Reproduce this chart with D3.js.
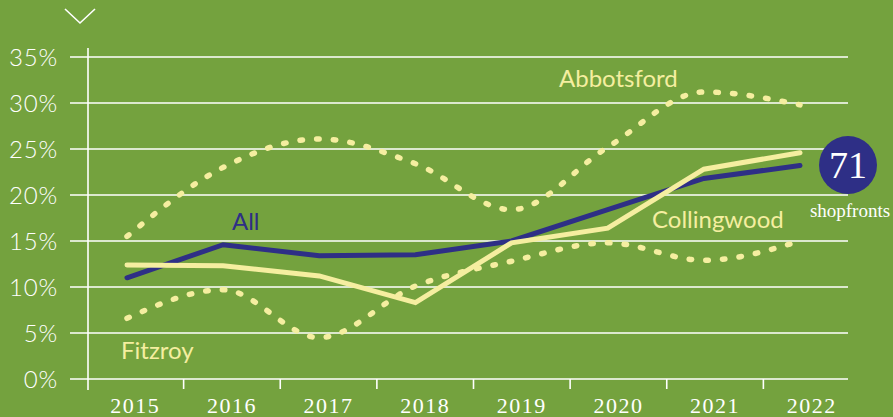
<!DOCTYPE html>
<html>
<head>
<meta charset="utf-8">
<script src="https://cdn.jsdelivr.net/npm/d3@7"></script>
<style>
  body { margin: 0; background: #74a23e; }
  svg { display: block; }
</style>
</head>
<body>
<script>
// chart data (percent of shopfronts vacant)
var years = [2015, 2016, 2017, 2018, 2019, 2020, 2021, 2022];
var allShops = [11.0, 14.6, 13.4, 13.5, 15.0, 18.4, 21.8, 23.2];
var collingwood = [12.4, 12.3, 11.2, 8.3, 14.8, 16.4, 22.8, 24.6];
var abbotsford = [15.5, 23.0, 26.1, 23.4, 18.4, 25.2, 31.2, 29.8];
var fitzroy = [6.6, 9.7, 4.5, 10.1, 12.8, 14.8, 12.9, 15.0];
var yTicks = [0, 5, 10, 15, 20, 25, 30, 35];
var shopCount = 71;

var width = 893,
    height = 417;

var green = "#74a23e",
    cream = "#f5eea0",
    navy = "#2e2f86";

var svg = d3.select("body")
  .append("svg")
  .attr("width", width)
  .attr("height", height);

svg.append("rect")
  .attr("width", width)
  .attr("height", height)
  .attr("fill", green);

//scales
var y = d3.scaleLinear().domain([0, 35]).range([379, 57]);
var x = d3.scalePoint().domain(years).range([127, 800]);
var xBand = d3.scaleBand().domain(years).range([87, 860]);

//chevron at top
svg.append("path")
  .attr("d", "M65,9L80,23L95,9")
  .attr("fill", "none")
  .attr("stroke", "#fff")
  .attr("stroke-width", 1.6);

//gridlines
svg.selectAll(".grid")
  .data(yTicks)
  .enter()
  .append("line")
  .attr("class", "grid")
  .attr("x1", 70)
  .attr("x2", 848)
  .attr("y1", function(d) { return y(d); })
  .attr("y2", function(d) { return y(d); })
  .attr("stroke", "#fff")
  .attr("stroke-width", 1.6);

//y axis labels
svg.selectAll(".ylab")
  .data(yTicks)
  .enter()
  .append("text")
  .attr("class", "ylab")
  .attr("x", 58)
  .attr("y", function(d) { return y(d) + 8.5; })
  .attr("text-anchor", "end")
  .attr("fill", "#fff")
  .style("font-family", "Lato, sans-serif")
  .style("font-weight", 300)
  .style("font-size", "24px")
  .style("letter-spacing", "0.8px")
  .text(function(d) { return d + "%"; });

//vertical axis line
svg.append("line")
  .attr("x1", 88).attr("x2", 88)
  .attr("y1", 48).attr("y2", 390)
  .attr("stroke", "#fff")
  .attr("stroke-width", 1.6);

//x ticks at band edges
svg.selectAll(".xtick")
  .data(years.slice(1))
  .enter()
  .append("line")
  .attr("class", "xtick")
  .attr("x1", function(d) { return xBand(d); })
  .attr("x2", function(d) { return xBand(d); })
  .attr("y1", y(0))
  .attr("y2", y(0) + 10)
  .attr("stroke", "#fff")
  .attr("stroke-width", 1.6);

svg.selectAll(".xlab")
  .data(years)
  .enter()
  .append("text")
  .attr("class", "xlab")
  .attr("x", function(d) { return xBand(d) + xBand.bandwidth() / 2; })
  .attr("y", 413)
  .attr("text-anchor", "middle")
  .attr("fill", "#fff")
  .style("font-family", "'Liberation Serif', serif")
  .style("font-size", "22px")
  .style("letter-spacing", "1.5px")
  .text(function(d) { return d; });

//lines
var smooth = d3.line()
  .x(function(d, i) { return x(years[i]); })
  .y(function(d) { return y(d); })
  .curve(d3.curveMonotoneX);

var straight = d3.line()
  .x(function(d, i) { return x(years[i]); })
  .y(function(d) { return y(d); });

[abbotsford, fitzroy].forEach(function(s) {
  svg.append("path")
    .datum(s)
    .attr("d", smooth)
    .attr("fill", "none")
    .attr("stroke", cream)
    .attr("stroke-width", 5.5)
    .attr("stroke-linecap", "round")
    .attr("stroke-dasharray", "2.5,14.2");
});

svg.append("path")
  .datum(allShops)
  .attr("d", straight)
  .attr("fill", "none")
  .attr("stroke", navy)
  .attr("stroke-width", 5)
  .attr("stroke-linecap", "round");

svg.append("path")
  .datum(collingwood)
  .attr("d", straight)
  .attr("fill", "none")
  .attr("stroke", cream)
  .attr("stroke-width", 5)
  .attr("stroke-linecap", "round");

//series labels
var labels = [
  {text: "Abbotsford", x: 559, y: 87, color: cream},
  {text: "All", x: 232, y: 230, color: navy},
  {text: "Collingwood", x: 652, y: 228, color: cream},
  {text: "Fitzroy", x: 121, y: 359, color: cream}
];

svg.selectAll(".slab")
  .data(labels)
  .enter()
  .append("text")
  .attr("class", "slab")
  .attr("x", function(d) { return d.x; })
  .attr("y", function(d) { return d.y; })
  .attr("fill", function(d) { return d.color; })
  .style("font-family", "Lato, sans-serif")
  .style("font-size", "24px")
  .text(function(d) { return d.text; });

//badge
svg.append("circle")
  .attr("cx", 848)
  .attr("cy", 165)
  .attr("r", 29)
  .attr("fill", navy);

svg.append("text")
  .attr("x", 848)
  .attr("y", 178)
  .attr("text-anchor", "middle")
  .attr("fill", "#fff")
  .style("font-family", "'Liberation Serif', serif")
  .style("font-size", "38px")
  .text(shopCount);

svg.append("text")
  .attr("x", 850)
  .attr("y", 217)
  .attr("text-anchor", "middle")
  .attr("fill", "#fff")
  .style("font-family", "'Liberation Serif', serif")
  .style("font-size", "19px")
  .text("shopfronts");
</script>
</body>
</html>
